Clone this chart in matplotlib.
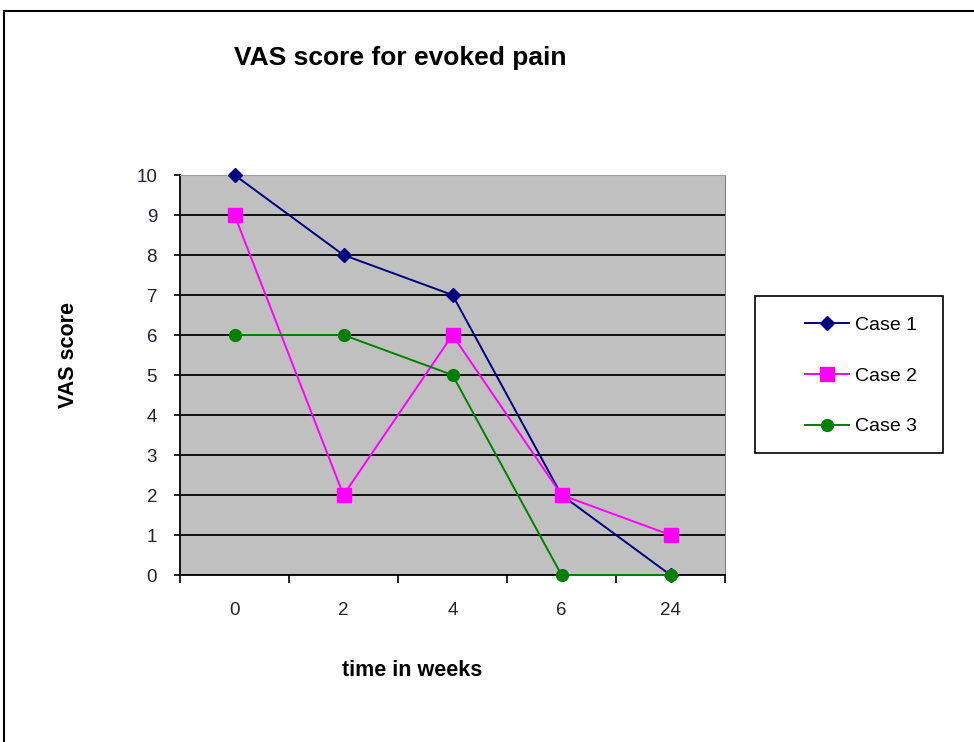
import matplotlib.pyplot as plt
from matplotlib.lines import Line2D
from matplotlib.patches import Rectangle
from matplotlib.ticker import FixedLocator

# data
weeks = ["0", "2", "4", "6", "24"]
case1 = [10, 8, 7, 2, 0]
case2 = [9, 2, 6, 2, 1]
case3 = [6, 6, 5, 0, 0]

plt.rcParams['font.family'] = ['Liberation Sans', 'DejaVu Sans']

fig = plt.figure(figsize=(9.74, 7.42), dpi=100)
W, H = 974, 742
ax = fig.add_axes([180 / W, 1 - 575 / H, 545 / W, 400 / H])
ax.set_facecolor('#c0c0c0')

x = list(range(len(weeks)))
ax.plot(x, case1, color='#000080', marker='D', markersize=7.5, lw=1.4, label='Case 1',
        clip_on=False, zorder=3)
ax.plot(x, case2, color='#ff00ff', marker='s', markersize=9.5, lw=1.4, label='Case 2',
        clip_on=False, zorder=3)
ax.plot(x, case3, color='#008000', marker='o', markersize=8.5, lw=1.4, label='Case 3',
        clip_on=False, zorder=3)

ax.set_xlim(-0.5, len(weeks) - 0.5)
ax.set_ylim(0, 10)
ax.set_yticks(range(0, 11))
ax.yaxis.grid(True, color='black', lw=1.3)
ax.set_axisbelow(True)

# category labels in the middle, tick marks on the boundaries
ax.set_xticks(x)
ax.set_xticklabels(weeks)
ax.xaxis.set_minor_locator(FixedLocator([i - 0.5 for i in range(len(weeks) + 1)]))
ax.tick_params(axis='x', which='major', length=0, pad=19.5, labelsize=13.5, labelcolor='#222233')
ax.tick_params(axis='x', which='minor', length=5.8, width=1.2, direction='out')
ax.tick_params(axis='y', length=4.5, width=1.2, direction='out', labelsize=13.5,
               pad=12, labelcolor='#222233')

ax.spines['top'].set_color('#a0a0a0')
ax.spines['right'].set_color('#808080')
ax.spines['left'].set_linewidth(1.3)
ax.spines['bottom'].set_linewidth(1.3)

fig.text(400 / W, 1 - 58 / H, "VAS score for evoked pain", ha='center', va='center',
         fontsize=19, fontweight='bold')
fig.text(412 / W, 1 - 670 / H, "time in weeks", ha='center', va='center',
         fontsize=15.5, fontweight='bold')
fig.text(68 / W, 1 - 355 / H, "VAS score", ha='center', va='center', rotation=90,
         fontsize=15.5, fontweight='bold')

# legend entries without frame, box drawn separately
leg = ax.legend(loc='center', bbox_to_anchor=(861 / W, 1 - 376 / H),
                bbox_transform=fig.transFigure, frameon=False, fontsize=14,
                labelspacing=1.7, handlelength=2.3, borderpad=0, borderaxespad=0,
                handletextpad=0.3)
fig.add_artist(Rectangle((755 / W, 1 - 453 / H), 188 / W, 157 / H, fill=False,
                         edgecolor='black', lw=1.2, transform=fig.transFigure))

# outer chart border (cropped on right and bottom)
fig.add_artist(Line2D([4 / W, 4 / W], [0, 1 - 11 / H], color='black', lw=1.5,
                      transform=fig.transFigure))
fig.add_artist(Line2D([4 / W, 1], [1 - 11 / H, 1 - 11 / H], color='black', lw=1.5,
                      transform=fig.transFigure))

fig.savefig('out.png', dpi=100)
